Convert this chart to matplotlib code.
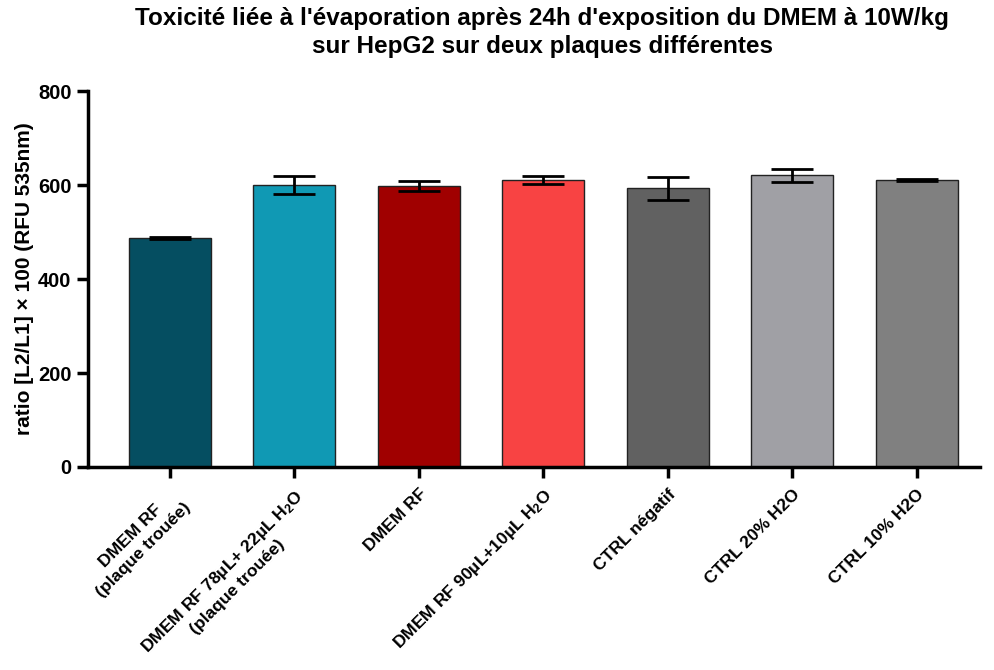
import matplotlib
matplotlib.use("Agg")
import matplotlib.pyplot as plt

plt.rcParams['font.family'] = ['Liberation Sans', 'DejaVu Sans']
plt.rcParams['mathtext.default'] = 'regular'

labels = ["DMEM RF\n(plaque trouée)",
          "DMEM RF 78µL+ 22µL H$_2$O\n(plaque trouée)",
          "DMEM RF",
          "DMEM RF 90µL+10µL H$_2$O",
          "CTRL négatif",
          "CTRL 20% H2O",
          "CTRL 10% H2O"]
values = [487, 600, 598, 611, 593, 621, 611]
errors = [2, 19, 10, 8, 24, 14, 2]
colors = ["#054e61", "#1099b4", "#a00000", "#f84343", "#616161", "#a0a0a5", "#808080"]

fig = plt.figure(figsize=(9.95, 6.7), dpi=100)
ax = fig.add_axes([0.088, 0.303, 0.897, 0.561])

x = list(range(len(values)))
ax.bar(x, values, width=0.66, color=colors, edgecolor="#222222", linewidth=1)
ax.errorbar(x, values, yerr=errors, fmt="none", ecolor="black",
            elinewidth=2, capsize=15, capthick=2)

ax.set_ylim(0, 800)
ax.set_xlim(-0.66, 6.51)
ax.set_yticks([0, 200, 400, 600, 800])
ax.set_xticks(x)
ax.set_xticklabels(labels, rotation=45, ha="right", va="top", rotation_mode="anchor",
                   fontweight="bold", fontsize=12.6,
                   multialignment="center", linespacing=1.35)
for t in ax.get_yticklabels():
    t.set_fontweight("bold")
    t.set_fontsize(14.5)

ax.spines["top"].set_visible(False)
ax.spines["right"].set_visible(False)
ax.spines["left"].set_linewidth(2.5)
ax.spines["bottom"].set_linewidth(2.5)
ax.tick_params(axis="both", width=2.5, length=8, direction="out")
ax.tick_params(axis="x", pad=6)

ax.set_ylabel("ratio [L2/L1] × 100 (RFU 535nm)", fontweight="bold", fontsize=15, labelpad=3)
fig.suptitle("Toxicité liée à l'évaporation après 24h d'exposition du DMEM à 10W/kg\nsur HepG2 sur deux plaques différentes",
             fontweight="bold", fontsize=17.5, x=0.545, y=0.99, linespacing=1.3)

fig.savefig("out.png", dpi=100)
